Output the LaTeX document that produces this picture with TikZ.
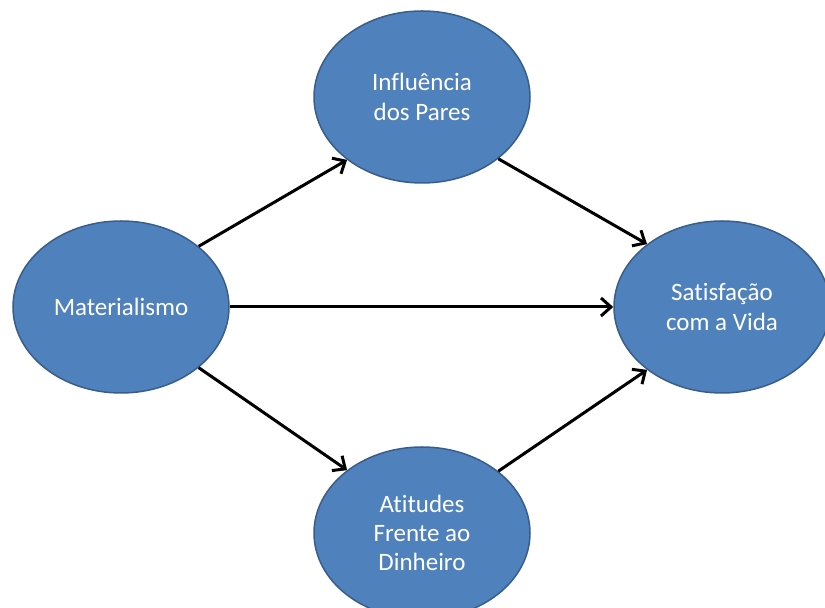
\documentclass[tikz,border=0pt]{standalone}
\usepackage{fontspec}
\setmainfont{Carlito}[Ligatures=NoCommon]
\usetikzlibrary{positioning,shapes.geometric,arrows.meta}

\definecolor{blobfill}{HTML}{4F81BD}
\definecolor{blobline}{HTML}{385D8A}

\begin{document}
\begin{tikzpicture}[on grid,>={Straight Barb[length=5pt,width=9pt]}]

\tikzset{blob/.style={ellipse,draw=blobline,line width=0.75pt,fill=blobfill,
  minimum width=108pt,minimum height=86pt,inner sep=0pt,
  text=white,align=center,font=\fontsize{12.5}{14.7}\selectfont}}
\tikzset{link/.style={->,line width=1.5pt,black}}

\useasboundingbox (-60.5pt,-150.5pt) rectangle (352pt,153.5pt);

\node[blob] 	(mat) 								{Materialismo};
\node[blob] 	(par) [above right=105pt and 150.5pt of mat]	{Influência\\dos Pares};
\node[blob] 	(sat) [right=300.5pt of mat]				{Satisfação\\com a Vida};
\node[blob] 	(din) [below right=113pt and 150.5pt of mat]	{Atitudes\\Frente ao\\Dinheiro};

\draw[link] 	(mat.38) 	-- (par.220);
\draw[link] 	(mat.east) 	-- (sat.west);
\draw[link] 	(mat.-38) 	-- (din.140);
\draw[link] 	(par.-39) 	-- (sat.140);
\draw[link] 	(din.39) 	-- (sat.-140);

\end{tikzpicture}
\end{document}
